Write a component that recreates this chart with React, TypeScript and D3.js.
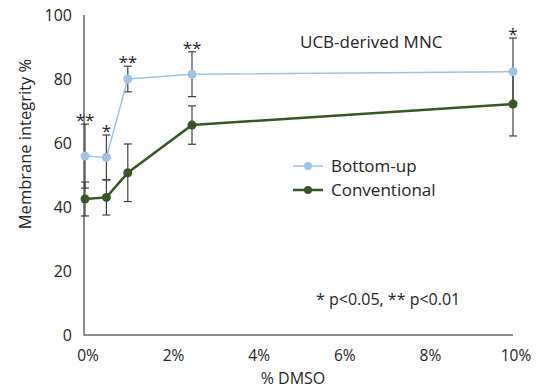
import React from "react";
import * as d3 from "d3";

const dmso = [0, 0.5, 1, 2.5, 10];
const bottomUp = [55.9, 55.5, 80, 81.5, 82.3];
const bottomUpErr = [10, 7, 4, 7, 10.5];
const conventional = [42.5, 43, 50.7, 65.6, 72.2];
const conventionalErr = [5.3, 5.5, 9, 6, 10];
const stars = ["**", "*", "**", "**", "*"];
const xTicks = [0, 2, 4, 6, 8, 10];
const yTicks = [0, 20, 40, 60, 80, 100];

const W = 537, H = 388;
const FONT = "'Open Sans', Lato, sans-serif";
const BLUE = "#9DC3E6";
const GREEN = "#375623";
const TXT = "#262626";

export default function App() {
  const x = d3.scaleLinear().domain([0, 10]).range([85, 513]);
  const y = d3.scaleLinear().domain([0, 100]).range([335, 15]);
  const line = d3.line<number>().x((_, i) => x(dmso[i])).y((d) => y(d));

  const errBars = (vals: number[], errs: number[], key: string) =>
    vals.map((v, i) => {
      const cx = x(dmso[i]);
      const t = y(v + errs[i]);
      const b = y(v - errs[i]);
      return (
        <g key={key + i} stroke="#404040" strokeWidth={1.2}>
          <line x1={cx} x2={cx} y1={t} y2={b} />
          <line x1={cx - 4} x2={cx + 4} y1={t} y2={t} />
          <line x1={cx - 4} x2={cx + 4} y1={b} y2={b} />
        </g>
      );
    });

  return (
    <svg width={W} height={H} style={{ position: "absolute", left: 0, top: 0 }} fontFamily={FONT}>
      <rect width={W} height={H} fill="#fff" />
      <line x1={x(0) - 1} x2={x(0) - 1} y1={y(100)} y2={y(0) + 1} stroke="#8c8c8c" strokeWidth={2} />
      <line x1={x(0) - 2} x2={x(10)} y1={y(0)} y2={y(0)} stroke="#8c8c8c" strokeWidth={2} />
      {yTicks.map((t) => (
        <text key={"y" + t} x={72} y={y(t)} dy="0.35em" textAnchor="end" fontSize={16} fill={TXT}>
          {t}
        </text>
      ))}
      {xTicks.map((t) => (
        <text key={"x" + t} x={x(t) + 3} y={356} dy="0.35em" textAnchor="middle" fontSize={15.5} fill={TXT}>
          {t}%
        </text>
      ))}
      <text x={293} y={378} dy="0.35em" textAnchor="middle" fontSize={16} fill={TXT}>% DMSO</text>
      <text transform={`translate(25,144) rotate(-90)`} textAnchor="middle" dy="0.35em" fontSize={16.5} fill={TXT}>
        Membrane integrity %
      </text>

      {errBars(conventional, conventionalErr, "c")}
      {errBars(bottomUp, bottomUpErr, "b")}

      <path d={line(bottomUp) || ""} fill="none" stroke={BLUE} strokeWidth={1.5} />
      {bottomUp.map((v, i) => (
        <circle key={"bp" + i} cx={x(dmso[i])} cy={y(v)} r={4.5} fill={BLUE} />
      ))}
      <path d={line(conventional) || ""} fill="none" stroke={GREEN} strokeWidth={2.5} />
      {conventional.map((v, i) => (
        <circle key={"cp" + i} cx={x(dmso[i])} cy={y(v)} r={4.5} fill={GREEN} />
      ))}

      {stars.map((s, i) => (
        <text key={"s" + i} x={x(dmso[i])} y={y(bottomUp[i] + bottomUpErr[i]) + 2} textAnchor="middle" fontSize={17} fill={TXT}>
          {s}
        </text>
      ))}

      <text x={300} y={48} fontSize={17} fill={TXT}>UCB-derived MNC</text>

      <line x1={293} x2={323} y1={166} y2={166} stroke={BLUE} strokeWidth={1.5} />
      <circle cx={308} cy={166} r={4} fill={BLUE} />
      <text x={331} y={166} dy="0.35em" fontSize={17} fill={TXT}>Bottom-up</text>
      <line x1={293} x2={323} y1={190} y2={190} stroke={GREEN} strokeWidth={2.5} />
      <circle cx={308} cy={190} r={4} fill={GREEN} />
      <text x={331} y={190} dy="0.35em" fontSize={17} fill={TXT}>Conventional</text>

      <text x={316} y={305} fontSize={16} fill={TXT}>* p&lt;0.05, ** p&lt;0.01</text>
    </svg>
  );
}
